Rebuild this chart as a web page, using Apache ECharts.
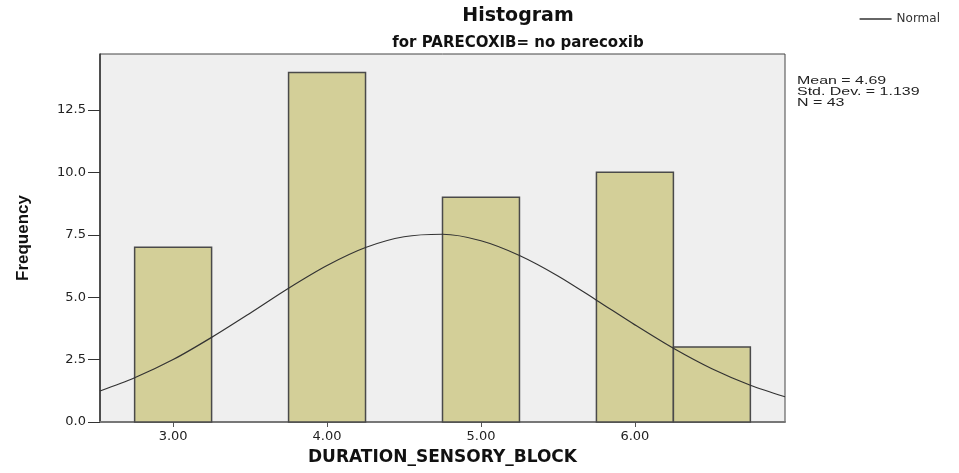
<!DOCTYPE html>
<html>
<head>
    <meta charset="utf-8">
    <title>Histogram</title>
    <script src="https://cdn.jsdelivr.net/npm/echarts@6/dist/echarts.min.js"></script>
    <style>
        html, body { margin: 0; padding: 0; background: #ffffff; }
        #main { width: 959px; height: 473px; }
    </style>
</head>
<body>
    <div id="main"></div>

    <script>
        // 直方图分组 (组宽 0.5)
        const binStart = [2.75, 3.75, 4.75, 5.75, 6.25];
        const binEnd = [3.25, 4.25, 5.25, 6.25, 6.75];
        const counts = [7, 14, 9, 10, 3];

        // 正态曲线
        const curveX = [2.525, 2.75, 3.0, 3.25, 3.5, 3.75, 4.0, 4.25, 4.5, 4.75, 5.0,
                        5.25, 5.5, 5.75, 6.0, 6.25, 6.5, 6.75, 6.975];
        const curveY = [1.24, 1.77, 2.50, 3.39, 4.36, 5.36, 6.27, 6.99, 7.42, 7.52, 7.26,
                        6.67, 5.85, 4.88, 3.89, 2.95, 2.13, 1.47, 1.01];

        // 坐标轴刻度
        const xTicks = [3, 4, 5, 6];
        const yTicks = [0, 2.5, 5, 7.5, 10, 12.5];

        const statsLines = ['Mean = 4.69', 'Std. Dev. = 1.139', 'N = 43'];

        const chart = echarts.init(document.getElementById('main'));

        const font = 'DejaVu Sans';

        chart.setOption({
            backgroundColor: '#ffffff',
            animation: false,
            title: [{
                text: 'Histogram',
                left: 518,
                top: 7,
                textAlign: 'center',
                padding: 0,
                textStyle: { fontFamily: font, fontSize: 19, fontWeight: 'bold', color: '#111' }
            }, {
                text: 'for PARECOXIB= no parecoxib',
                left: 518,
                top: 36,
                textAlign: 'center',
                padding: 0,
                textStyle: { fontFamily: font, fontSize: 15, fontWeight: 'bold', color: '#111' }
            }],
            legend: {
                data: [{ name: 'Normal', icon: 'rect' }],
                right: 14,
                top: 8,
                itemWidth: 32,
                itemHeight: 1.5,
                itemGap: 4,
                textStyle: { fontFamily: font, fontSize: 12, color: '#333' }
            },
            grid: {
                left: 100,
                right: 174,
                top: 54,
                bottom: 51,
                show: true,
                backgroundColor: '#efefef',
                borderColor: '#444',
                borderWidth: 1
            },
            xAxis: {
                type: 'value',
                min: 2.525,
                max: 6.975,
                name: 'DURATION_SENSORY_BLOCK',
                nameLocation: 'middle',
                nameGap: 27,
                nameTextStyle: { fontFamily: font, fontSize: 17, fontWeight: 'bold', color: '#111' },
                axisLine: { show: true, lineStyle: { color: '#777', width: 2 } },
                axisTick: { show: true, length: 5, customValues: xTicks, lineStyle: { color: '#555' } },
                axisLabel: {
                    customValues: xTicks,
                    margin: 8,
                    fontFamily: font,
                    fontSize: 13,
                    color: '#222',
                    formatter: v => v.toFixed(2)
                },
                splitLine: { show: false }
            },
            yAxis: {
                type: 'value',
                min: 0,
                max: 14.74,
                name: 'Frequency',
                nameLocation: 'middle',
                nameGap: 68,
                nameTextStyle: { fontFamily: 'Liberation Sans', fontSize: 17, fontWeight: 'bold', color: '#111' },
                axisLine: { show: true, lineStyle: { color: '#333', width: 1.5 } },
                axisTick: { show: true, length: 12, customValues: yTicks, lineStyle: { color: '#333' } },
                axisLabel: {
                    customValues: yTicks,
                    margin: 14,
                    fontFamily: font,
                    fontSize: 13,
                    color: '#222',
                    formatter: v => v.toFixed(1)
                },
                splitLine: { show: false }
            },
            graphic: [{
                type: 'text',
                left: 797,
                top: 75,
                scaleX: 1.45,
                style: {
                    text: statsLines.join('\n'),
                    font: '11px "Liberation Sans"',
                    lineHeight: 11,
                    fill: '#222'
                }
            }],
            series: [{
                name: 'Histogram',
                type: 'custom',
                renderItem: function (params, api) {
                    const top = api.coord([api.value(0), api.value(2)]);
                    const bottom = api.coord([api.value(1), 0]);
                    return {
                        type: 'rect',
                        shape: {
                            x: top[0],
                            y: top[1],
                            width: bottom[0] - top[0],
                            height: bottom[1] - top[1]
                        },
                        style: { fill: '#d3cf98', stroke: '#4a4a4a', lineWidth: 1.5 }
                    };
                },
                encode: { x: [0, 1], y: 2 },
                data: binStart.map((s, i) => [s, binEnd[i], counts[i]]),
                z: 2
            }, {
                name: 'Normal',
                type: 'line',
                data: curveX.map((x, i) => [x, curveY[i]]),
                smooth: 0.3,
                symbol: 'none',
                lineStyle: { color: '#333', width: 1.2 },
                itemStyle: { color: '#333' },
                z: 3
            }]
        });

        window.addEventListener('resize', function () {
            chart.resize();
        });
    </script>
</body>
</html>
